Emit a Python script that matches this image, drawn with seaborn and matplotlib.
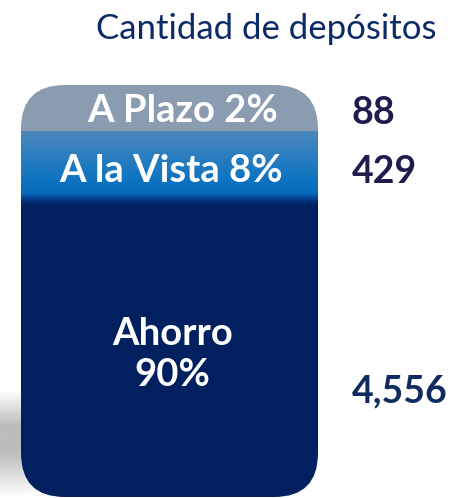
# Cantidad de depósitos por tipo de cuenta
# Barra apilada con esquinas redondeadas

import numpy as np
import pandas as pd
import matplotlib
matplotlib.use("Agg")
import matplotlib.pyplot as plt
import seaborn as sns
from matplotlib.patches import FancyBboxPatch
from matplotlib.colors import LinearSegmentedColormap

# datos
tipos = ["A Plazo", "A la Vista", "Ahorro"]
porcentajes = [2, 8, 90]
cantidades = [88, 429, 4556]
textos_cantidad = ["88", "429", "4,556"]
titulo = "Cantidad de depósitos"

df = pd.DataFrame({"tipo": tipos, "pct": porcentajes, "cantidad": cantidades})
df["base"] = df["cantidad"].cumsum() - df["cantidad"]
df["grupo"] = "depositos"
total = df["cantidad"].sum()

sns.set_style("white")
plt.rcParams["font.family"] = ["Lato", "DejaVu Sans"]

W, H = 461, 498
fig = plt.figure(figsize=(W / 100, H / 100), dpi=100)

# sombra suave a la izquierda
ax_bg = fig.add_axes([0, 0, 1, 1], zorder=0)
ax_bg.axis("off")
yy, xx = np.mgrid[0:H, 0:W]
alpha = np.clip((yy - 390) / 35, 0, 1) * np.clip((497 - yy) / 45, 0, 1)
alpha = alpha * np.clip((70 - xx) / 50, 0, 1) * 0.4
sombra = np.zeros((H, W, 4))
sombra[..., :3] = 0.35
sombra[..., 3] = alpha
ax_bg.imshow(sombra, extent=[0, 1, 0, 1], aspect="auto", origin="upper")
ax_bg.set_xlim(0, 1)
ax_bg.set_ylim(0, 1)

ax = fig.add_axes([21 / W, 1 / H, 297 / W, 412 / H], zorder=1)

colores = ["#8b9bb0", "#1f77c0", "#002060"]
for i, fila in df.iterrows():
    sns.barplot(data=df.iloc[[i]], x="grupo", y="cantidad", bottom=fila["base"],
                color=colores[i], saturation=1, width=0.8, linewidth=0, ax=ax)

# escala de potencia para que los tramos pequeños sean legibles
p = 0.54
ax.set_yscale("function", functions=(lambda y: np.sign(y) * np.abs(y) ** p,
                                     lambda y: np.sign(y) * np.abs(y) ** (1 / p)))
ax.set_xlim(-0.4, 0.4)
ax.set_ylim(total, 0)
ax.axis("off")

a_ejes = ax.transScale + ax.transLimits
limites = []
for _, fila in df.iterrows():
    y0 = a_ejes.transform((0, fila["base"]))[1]
    y1 = a_ejes.transform((0, fila["base"] + fila["cantidad"]))[1]
    limites.append((y0, y1))

clip = FancyBboxPatch((0, 0), 1, 1, boxstyle="round,pad=0,rounding_size=0.148",
                      mutation_aspect=297 / 412, transform=ax.transAxes,
                      facecolor="none", edgecolor="none")

# degradado del tramo A la Vista
cmap = LinearSegmentedColormap.from_list("vista", [
    (0, "#4c87bb"), (0.3, "#2e7fc0"), (0.7, "#0a72c0"), (0.85, "#0669b7"),
    (0.9, "#05489c"), (0.95, "#03337a"), (1, "#012366")])
y0, y1 = limites[1]
grad = np.linspace(0, 1, 200).reshape(-1, 1)
im = ax.imshow(grad, extent=[0, 1, y1, y0], transform=ax.transAxes, cmap=cmap,
               aspect="auto", origin="upper", zorder=2)
im.set_clip_path(clip)
ax.set_xlim(-0.4, 0.4)
ax.set_ylim(total, 0)

for barra in ax.patches:
    barra.set_clip_path(clip)

# etiquetas dentro de la barra
x_etiqueta = [0.545, 0.505, 0.51]
for i, fila in df.iterrows():
    sep = "\n" if i == len(df) - 1 else " "
    y0, y1 = limites[i]
    ax.text(x_etiqueta[i], (y0 + y1) / 2 - 0.008, f"{fila['tipo']}{sep}{fila['pct']}%",
            transform=ax.transAxes, ha="center", va="center", color="white",
            fontsize=27.5, fontweight="bold", linespacing=1.25, zorder=5)

# cantidades a la derecha
pos_cantidad = [0.6, 0.55, 0.64]
color_cant = ["#1d1d4f", "#1d1d4f", "#0f2a5e"]
for i, txt in enumerate(textos_cantidad):
    y0, y1 = limites[i]
    ax.text(1.114, y0 + (y1 - y0) * pos_cantidad[i], txt, transform=ax.transAxes,
            ha="left", va="center", color=color_cant[i], fontsize=27,
            fontweight="bold", clip_on=False)

fig.text(266 / W, 1 - 29 / H, titulo, ha="center", va="center",
         color="#0b2a66", fontsize=25)

plt.savefig("out.png", dpi=100)
